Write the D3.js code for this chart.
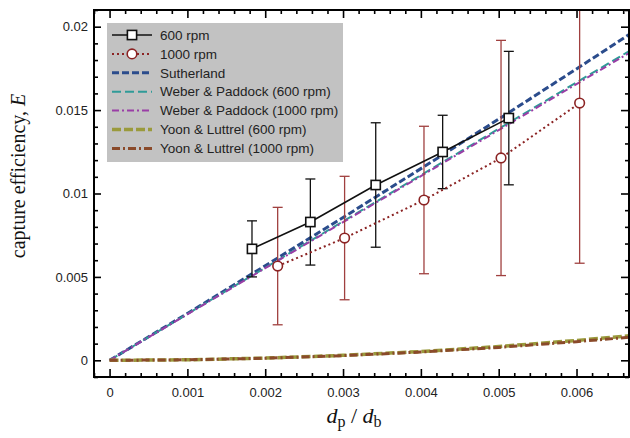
<!DOCTYPE html>
<html>
<head>
<meta charset="utf-8">
<script src="https://cdn.jsdelivr.net/npm/d3@7"></script>
<style>
  body { margin: 0; background: #fff; }
  svg { display: block; }
</style>
</head>
<body>
<svg width="630" height="438"></svg>
<script>
// measured points
const x600 = [0.00183, 0.00258, 0.00342, 0.00428, 0.00513]
const E600 = [0.00668, 0.00829, 0.01051, 0.01249, 0.01452]
const err600 = [0.00168, 0.00258, 0.00373, 0.0022, 0.004]

const x1000 = [0.00216, 0.00302, 0.00404, 0.00503, 0.00604]
const E1000 = [0.00565, 0.00733, 0.00961, 0.01213, 0.01542]
const err1000 = [0.00352, 0.0037, 0.00442, 0.00705, 0.0096]

// model curves
const xModel = [0, 0.001, 0.002, 0.003, 0.004, 0.005, 0.006, 0.0067]
const sutherland = [0, 0.00281, 0.00567, 0.00856, 0.01149, 0.01446, 0.01747, 0.0196]
const weber600 = [0, 0.00278, 0.00555, 0.00833, 0.0111, 0.01388, 0.01666, 0.0186]
const weber1000 = [0, 0.00276, 0.00552, 0.00828, 0.01104, 0.0138, 0.01656, 0.01849]
const yoon600 = [0, 0.000033, 0.000132, 0.000297, 0.000528, 0.000825, 0.00119, 0.00148]
const yoon1000 = [0, 0.000031, 0.000124, 0.000279, 0.000496, 0.000775, 0.00112, 0.00139]

const xTicks = [0, 0.001, 0.002, 0.003, 0.004, 0.005, 0.006]
const xTickLabels = ['0', '0.001', '0.002', '0.003', '0.004', '0.005', '0.006']
const yTicks = [0, 0.005, 0.01, 0.015, 0.02]
const yTickLabels = ['0', '0.005', '0.01', '0.015', '0.02']

const legendNames = ['600 rpm', '1000 rpm', 'Sutherland', 'Weber & Paddock (600 rpm)',
    'Weber & Paddock (1000 rpm)', 'Yoon & Luttrel (600 rpm)', 'Yoon & Luttrel (1000 rpm)']

const svg = d3.select('svg')
const mLeft = 94, mRight = 629, mTop = 10, mBottom = 377

const xScale = d3.scaleLinear().domain([-0.0002, 0.0067]).range([mLeft, 631])
const yScale = d3.scaleLinear().domain([-0.001, 0.021]).range([mBottom, mTop])

// model line styles
const models = [
    { name: legendNames[2], y: sutherland, color: '#2b4c8c', width: 3, dash: '7,3' },
    { name: legendNames[3], y: weber600, color: '#2f9b98', width: 2, dash: '9,4' },
    { name: legendNames[4], y: weber1000, color: '#9a3ea6', width: 2, dash: '7,3,2,3' },
    { name: legendNames[5], y: yoon600, color: '#9a9a3c', width: 3.5, dash: '9,3' },
    { name: legendNames[6], y: yoon1000, color: '#8a4a2a', width: 3, dash: '8,3,2,3' }
]

svg.append('defs').append('clipPath').attr('id', 'plot')
    .append('rect')
    .attr('x', mLeft).attr('y', mTop)
    .attr('width', mRight - mLeft).attr('height', mBottom - mTop)

const plot = svg.append('g').attr('clip-path', 'url(#plot)')

const line = d3.line().x(d => xScale(d[0])).y(d => yScale(d[1]))

//model curves
models.forEach(m => {
    plot.append('path')
        .datum(xModel.map((x, i) => [x, m.y[i]]))
        .attr('d', line)
        .attr('fill', 'none')
        .attr('stroke', m.color)
        .attr('stroke-width', m.width)
        .attr('stroke-dasharray', m.dash)
})

const pts600 = x600.map((x, i) => ({ x: x, y: E600[i], e: err600[i] }))
const pts1000 = x1000.map((x, i) => ({ x: x, y: E1000[i], e: err1000[i] }))

// error bars
const errorBars = (pts, color) => {
    const g = plot.append('g').attr('stroke', color).attr('stroke-width', 1.3).attr('fill', 'none')
    pts.forEach(d => {
        const cx = xScale(d.x), y1 = yScale(d.y + d.e), y2 = yScale(d.y - d.e)
        g.append('line').attr('x1', cx).attr('x2', cx).attr('y1', y1).attr('y2', y2)
        g.append('line').attr('x1', cx - 5).attr('x2', cx + 5).attr('y1', y1).attr('y2', y1)
        g.append('line').attr('x1', cx - 5).attr('x2', cx + 5).attr('y1', y2).attr('y2', y2)
    })
}
errorBars(pts1000, '#a0403f')
errorBars(pts600, '#111')

plot.append('path')
    .datum(pts1000.map(d => [d.x, d.y]))
    .attr('d', line)
    .attr('fill', 'none')
    .attr('stroke', '#8b2323')
    .attr('stroke-width', 2)
    .attr('stroke-dasharray', '2,3')

plot.append('path')
    .datum(pts600.map(d => [d.x, d.y]))
    .attr('d', line)
    .attr('fill', 'none')
    .attr('stroke', '#111')
    .attr('stroke-width', 1.6)

plot.selectAll('.circ')
    .data(pts1000)
    .enter().append('circle')
    .attr('cx', d => xScale(d.x))
    .attr('cy', d => yScale(d.y))
    .attr('r', 4.8)
    .attr('fill', '#fff')
    .attr('stroke', '#8b2323')
    .attr('stroke-width', 1.6)

plot.selectAll('.sq')
    .data(pts600)
    .enter().append('rect')
    .attr('x', d => xScale(d.x) - 4.6)
    .attr('y', d => yScale(d.y) - 4.6)
    .attr('width', 9.2)
    .attr('height', 9.2)
    .attr('fill', '#fff')
    .attr('stroke', '#111')
    .attr('stroke-width', 1.6)

//axes
const xMinor = d3.range(-1, 34).map(i => i * 0.0002).filter(v => Math.abs(v * 1000 - Math.round(v * 1000)) > 1e-6)
const yMinor = d3.range(-1, 22).map(i => i * 0.001).filter(v => Math.abs(v * 200 - Math.round(v * 200)) > 1e-6)

const addAxis = (axis, transform) => {
    const g = svg.append('g').attr('transform', transform).call(axis)
    g.select('.domain').remove()
    g.selectAll('.tick line').attr('stroke', '#000').attr('stroke-width', 1.6)
    g.selectAll('text')
        .attr('font-family', 'Liberation Sans, Arial, sans-serif')
        .attr('font-size', 13)
        .attr('fill', '#222')
    return g
}

addAxis(d3.axisBottom(xScale).tickValues(xTicks).tickSize(-8).tickPadding(11)
    .tickFormat((d, i) => xTickLabels[i]), `translate(0,${mBottom})`)
addAxis(d3.axisBottom(xScale).tickValues(xMinor).tickSize(-4).tickFormat(''), `translate(0,${mBottom})`)
addAxis(d3.axisTop(xScale).tickValues(xTicks).tickSize(-8).tickFormat(''), `translate(0,${mTop})`)
addAxis(d3.axisTop(xScale).tickValues(xMinor).tickSize(-4).tickFormat(''), `translate(0,${mTop})`)

addAxis(d3.axisLeft(yScale).tickValues(yTicks).tickSize(-7).tickPadding(6)
    .tickFormat((d, i) => yTickLabels[i]), `translate(${mLeft},0)`)
addAxis(d3.axisLeft(yScale).tickValues(yMinor).tickSize(-4).tickFormat(''), `translate(${mLeft},0)`)
addAxis(d3.axisRight(yScale).tickValues(yTicks).tickSize(-8).tickFormat(''), `translate(${mRight},0)`)
addAxis(d3.axisRight(yScale).tickValues(yMinor).tickSize(-4).tickFormat(''), `translate(${mRight},0)`)

svg.append('rect')
    .attr('x', mLeft).attr('y', mTop)
    .attr('width', mRight - mLeft).attr('height', mBottom - mTop)
    .attr('fill', 'none')
    .attr('stroke', '#000')
    .attr('stroke-width', 2)

//labels
svg.append('text')
    .attr('transform', 'translate(25,176) rotate(-90)')
    .attr('text-anchor', 'middle')
    .attr('font-family', 'Liberation Serif, Times New Roman, serif')
    .attr('font-size', 20)
    .attr('fill', '#111')
    .call(t => {
        t.append('tspan').text('capture efficiency, ')
        t.append('tspan').attr('font-style', 'italic').text('E')
    })

svg.append('text')
    .attr('x', 354)
    .attr('y', 423)
    .attr('text-anchor', 'middle')
    .attr('font-family', 'Liberation Serif, Times New Roman, serif')
    .attr('font-size', 22)
    .attr('fill', '#111')
    .call(t => {
        t.append('tspan').attr('font-style', 'italic').text('d')
        t.append('tspan').attr('font-size', 16).attr('dy', 4).text('p')
        t.append('tspan').attr('dy', -4).text(' / ')
        t.append('tspan').attr('font-style', 'italic').text('d')
        t.append('tspan').attr('font-size', 16).attr('dy', 4).text('b')
    })

//legend
const legend = svg.append('g')
legend.append('rect')
    .attr('x', 107).attr('y', 23)
    .attr('width', 236).attr('height', 139)
    .attr('fill', '#c2c2c2')

const rowY = i => 35 + i * 18.9
const lx1 = 112, lx2 = 152, lxm = 132

legend.append('line')
    .attr('x1', lx1).attr('x2', lx2).attr('y1', rowY(0)).attr('y2', rowY(0))
    .attr('stroke', '#111').attr('stroke-width', 1.6)
legend.append('rect')
    .attr('x', lxm - 4.6).attr('y', rowY(0) - 4.6).attr('width', 9.2).attr('height', 9.2)
    .attr('fill', '#fff').attr('stroke', '#111').attr('stroke-width', 1.6)

legend.append('line')
    .attr('x1', lx1).attr('x2', lx2).attr('y1', rowY(1)).attr('y2', rowY(1))
    .attr('stroke', '#8b2323').attr('stroke-width', 2).attr('stroke-dasharray', '2,3')
legend.append('circle')
    .attr('cx', lxm).attr('cy', rowY(1)).attr('r', 4.8)
    .attr('fill', '#fff').attr('stroke', '#8b2323').attr('stroke-width', 1.6)

models.forEach((m, i) => {
    legend.append('line')
        .attr('x1', lx1).attr('x2', lx2).attr('y1', rowY(i + 2)).attr('y2', rowY(i + 2))
        .attr('stroke', m.color)
        .attr('stroke-width', m.width)
        .attr('stroke-dasharray', m.dash)
})

legend.selectAll('.lt')
    .data(legendNames)
    .enter().append('text')
    .attr('x', 160)
    .attr('y', (d, i) => rowY(i))
    .attr('dy', '.35em')
    .attr('font-family', 'Liberation Sans, Arial, sans-serif')
    .attr('font-size', 13.5)
    .attr('fill', '#222')
    .text(d => d)
</script>
</body>
</html>
